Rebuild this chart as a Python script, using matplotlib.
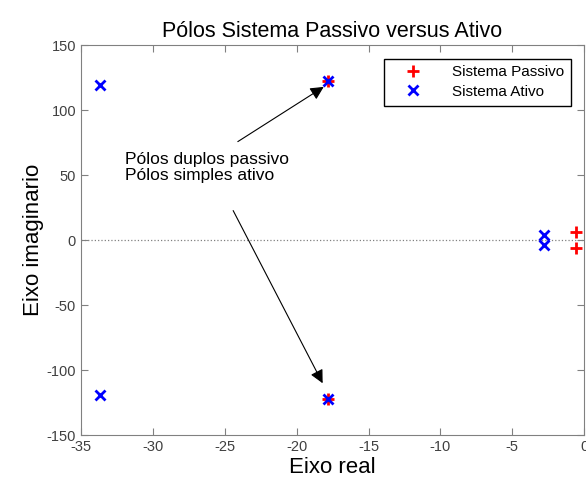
import matplotlib.pyplot as plt

plt.rcParams['font.family'] = ['Liberation Sans', 'DejaVu Sans']
plt.rcParams['axes.unicode_minus'] = False

# Polos do sistema passivo (duplos) e do sistema ativo
passivo_re = [-17.8, -17.8, -0.6, -0.6]
passivo_im = [122, -122, 6.2, -6.2]
ativo_re = [-33.7, -33.7, -17.8, -17.8, -2.8, -2.8]
ativo_im = [119, -119, 122, -122, 3.8, -3.8]

xticks = [-35, -30, -25, -20, -15, -10, -5, 0]
yticks = [-150, -100, -50, 0, 50, 100, 150]

fig = plt.figure(figsize=(5.86, 4.90), dpi=100)
ax = fig.add_axes([0.138, 0.112, 0.859, 0.796])

ax.axhline(0, color='#808080', linestyle=':', linewidth=0.9)
ax.plot(passivo_re, passivo_im, '+', color='red', markersize=9, mew=2,
        linestyle='none', label='Sistema Passivo')
ax.plot(ativo_re, ativo_im, 'x', color='blue', markersize=7, mew=2,
        linestyle='none', label='Sistema Ativo')

ax.text(-31.9, 68, 'Pólos duplos passivo\nPólos simples ativo',
        fontsize=12.5, va='top', ha='left', linespacing=1.1)
seta = dict(arrowstyle='-|>', color='k', lw=0.8, mutation_scale=20)
ax.annotate('', xy=(-17.95, 119), xytext=(-24.25, 74.6), arrowprops=seta)
ax.annotate('', xy=(-18.1, -112), xytext=(-24.5, 24.6), arrowprops=seta)

ax.set_xlim(-35, 0)
ax.set_ylim(-150, 150)
ax.set_xticks(xticks)
ax.set_yticks(yticks)
ax.tick_params(direction='in', top=True, right=True, length=5,
               color='#808080', labelcolor='#404040', labelsize=10.5)
for s in ax.spines.values():
    s.set_color('#808080')

ax.set_title('Pólos Sistema Passivo versus Ativo', fontsize=15.5)
ax.set_xlabel('Eixo real', fontsize=16, labelpad=2)
ax.set_ylabel('Eixo imaginario', fontsize=16, labelpad=2)

leg = ax.legend(loc='upper right', fontsize=11, fancybox=False,
                framealpha=1, edgecolor='black', borderpad=0.45,
                handlelength=3.0, handletextpad=1.0, labelspacing=0.35,
                bbox_to_anchor=(0.988, 0.985))
leg.get_frame().set_linewidth(1.0)

plt.savefig('out.png', dpi=100)
plt.close()
